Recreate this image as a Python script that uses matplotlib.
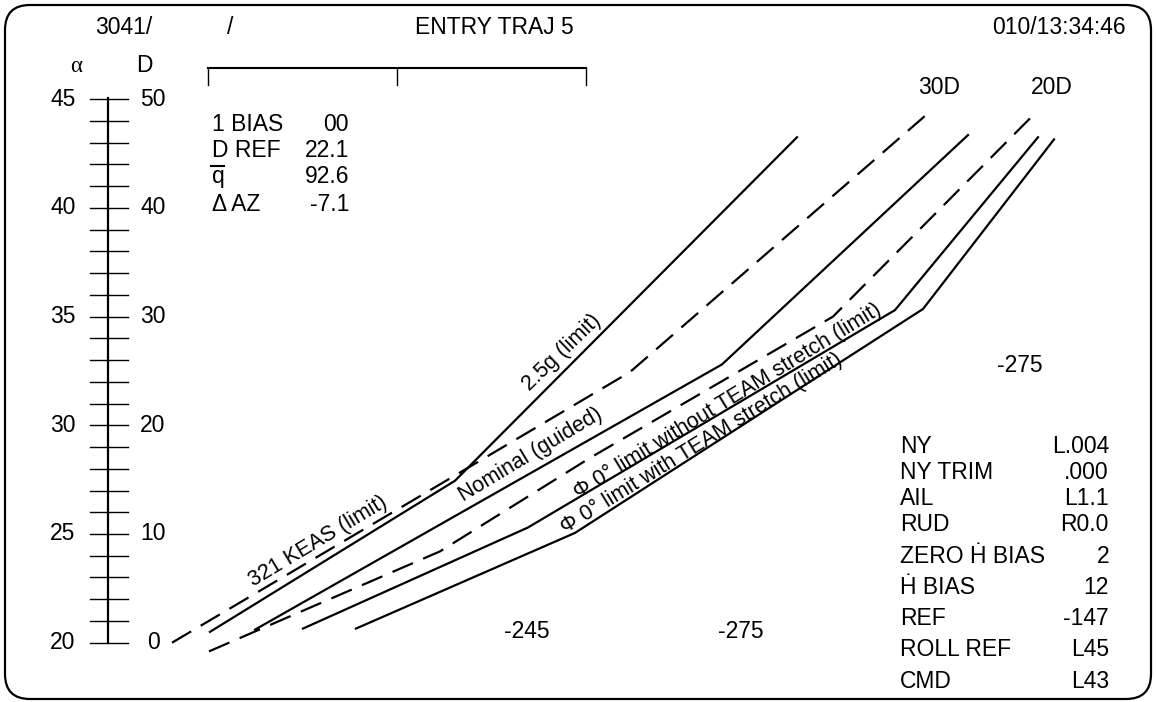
import matplotlib
matplotlib.use("Agg")
import matplotlib.pyplot as plt
from matplotlib.patches import FancyBboxPatch
from matplotlib.transforms import Affine2D

plt.rcParams['font.family'] = ['Liberation Sans', 'DejaVu Sans']

W, H = 1156, 702

# ---------------- data ----------------
# drag scale (D) and matching angle-of-attack scale (alpha)
d_major = [0, 10, 20, 30, 40, 50]
alpha_major = ['20', '25', '30', '35', '40', '45']
d_minor = list(range(0, 51, 2))

# trajectory lines: x = horizontal screen position, d = drag level
dashed_30d_x = [172, 630, 928]
dashed_30d_d = [0.0, 24.9, 48.7]
limit_25g_x = [210, 455, 797]
limit_25g_d = [1.0, 14.9, 46.5]
nominal_x = [255, 722, 968]
nominal_d = [1.2, 25.6, 46.7]
dashed_20d_x = [209, 440, 590, 833, 1035]
dashed_20d_d = [-0.8, 8.4, 17.0, 30.0, 48.7]
phi0_no_team_x = [303, 528, 895, 1038]
phi0_no_team_d = [1.3, 10.6, 30.6, 46.5]
phi0_team_x = [356, 575, 923, 1054]
phi0_team_d = [1.3, 10.1, 30.7, 46.3]

left_labels = ['1 BIAS', 'D REF', 'q', '\u0394 AZ']
left_values = ['00', '22.1', '92.6', '-7.1']
right_labels = ['NY', 'NY TRIM', 'AIL', 'RUD', 'ZERO \u1E22 BIAS', '\u1E22 BIAS',
                'REF', 'ROLL REF', 'CMD']
right_values = ['L.004', '.000', 'L1.1', 'R0.0', '2', '12', '-147', 'L45', 'L43']

# ---------------- figure ----------------
fig = plt.figure(figsize=(W / 100, H / 100), dpi=100)
ax = fig.add_axes([0, 0, 1, 1])
D0_PX, PX_PER_D = 642.7, 10.87
ax.set_xlim(0, W)
ax.set_ylim((D0_PX - H) / PX_PER_D, D0_PX / PX_PER_D)
ax.axis('off')

# pixel transform (y downward) for layout elements
pix = Affine2D().scale(1 / W, -1 / H).translate(0, 1) + fig.transFigure

# border
border = FancyBboxPatch((5, 5), 1146, 694, boxstyle="round,pad=0,rounding_size=25",
                        transform=pix, fill=False, lw=1.6, ec='black')
fig.patches.append(border)

FS = 16.5
LW = 1.6

# header
fig.text(124, 28, '3041/', transform=pix, ha='center', va='center', fontsize=FS)
fig.text(230, 28, '/', transform=pix, ha='center', va='center', fontsize=FS)
fig.text(494, 28, 'ENTRY TRAJ 5', transform=pix, ha='center', va='center', fontsize=FS)
fig.text(1059, 28, '010/13:34:46', transform=pix, ha='center', va='center', fontsize=FS)
fig.text(76, 66, '\u03b1', transform=pix, ha='center', va='center', fontsize=FS,
         family=['Liberation Serif', 'DejaVu Serif'])
fig.text(144, 66, 'D', transform=pix, ha='center', va='center', fontsize=FS)

# top bar
fig.lines.append(plt.Line2D([208, 586], [68, 68], transform=pix, color='black', lw=1.5))
for xt in (208, 397, 586):
    fig.lines.append(plt.Line2D([xt, xt], [68, 85], transform=pix, color='black', lw=1.0))

# left scale
SCALE_X = 107.7
ax.plot([SCALE_X, SCALE_X], [d_major[0], d_major[-1] + 0.15], color='black', lw=1.6)
for d in d_minor:
    ax.plot([90, 127.7], [d, d], color='black', lw=1.0)
for d, a in zip(d_major, alpha_major):
    ax.text(63, d, a, ha='center', va='center', fontsize=FS)
    ax.text(153, d, str(d), ha='center', va='center', fontsize=FS)

# trajectory lines
dash = (0, (10, 5))
ax.plot(dashed_30d_x, dashed_30d_d, color='black', lw=LW, linestyle=dash)
ax.plot(limit_25g_x, limit_25g_d, color='black', lw=LW)
ax.plot(nominal_x, nominal_d, color='black', lw=LW)
ax.plot(dashed_20d_x, dashed_20d_d, color='black', lw=LW, linestyle=dash)
ax.plot(phi0_no_team_x, phi0_no_team_d, color='black', lw=LW)
ax.plot(phi0_team_x, phi0_team_d, color='black', lw=LW)

# curve labels (pixel positions)
CFS = 15.5
fig.text(318, 541, '321 KEAS (limit)', transform=pix, rotation=31, ha='center',
         va='center', fontsize=CFS, rotation_mode='anchor')
fig.text(562, 353, '2.5g (limit)', transform=pix, rotation=44, ha='center',
         va='center', fontsize=CFS, rotation_mode='anchor')
fig.text(531, 455, 'Nominal (guided)', transform=pix, rotation=31, ha='center',
         va='center', fontsize=CFS, rotation_mode='anchor')
fig.text(728, 401, '\u03a6 0\u00b0 limit without TEAM stretch (limit)', transform=pix,
         rotation=31.4, ha='center', va='center', fontsize=CFS, rotation_mode='anchor')
fig.text(702, 443, '\u03a6 0\u00b0 limit with TEAM stretch (limit)', transform=pix,
         rotation=31.6, ha='center', va='center', fontsize=CFS, rotation_mode='anchor')

fig.text(939, 88, '30D', transform=pix, ha='center', va='center', fontsize=FS)
fig.text(1052, 88, '20D', transform=pix, ha='center', va='center', fontsize=FS)
fig.text(527, 632, '-245', transform=pix, ha='center', va='center', fontsize=FS)
fig.text(741, 632, '-275', transform=pix, ha='center', va='center', fontsize=FS)
fig.text(1020, 366, '-275', transform=pix, ha='center', va='center', fontsize=FS)

# left text block
left_base = [131, 157, 183, 211]
for lab, val, yb in zip(left_labels, left_values, left_base):
    fig.text(212, yb, lab, transform=pix, ha='left', va='baseline', fontsize=FS)
    fig.text(349, yb, val, transform=pix, ha='right', va='baseline', fontsize=FS)
fig.lines.append(plt.Line2D([211, 224], [166, 166], transform=pix, color='black', lw=1.5))

# right text block
right_base = [453, 479, 505, 531, 563, 594, 625, 656, 688]
for lab, val, yb in zip(right_labels, right_values, right_base):
    fig.text(900, yb, lab, transform=pix, ha='left', va='baseline', fontsize=FS)
    fig.text(1109, yb, val, transform=pix, ha='right', va='baseline', fontsize=FS)

fig.savefig('out.png', dpi=100, facecolor='white')
